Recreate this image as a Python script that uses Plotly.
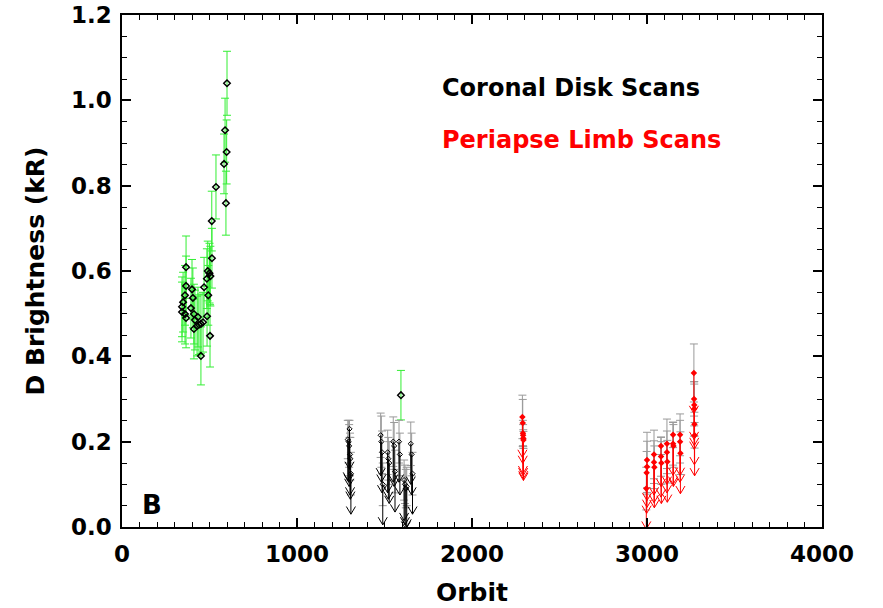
import plotly.graph_objects as go

# Coronal disk scans: detections (green error bars, black diamonds)
det_orbit = [600, 589, 598, 583, 537, 594, 513, 514, 366, 490, 500, 505, 485,
             366, 400, 469, 493, 360, 405, 349, 343, 394, 343, 360, 411, 366,
             486, 434, 417, 463, 451, 440, 429, 411, 503, 451, 1594]
det_bright = [1.04, 0.93, 0.879, 0.851, 0.797, 0.759, 0.717, 0.63, 0.609, 0.600,
              0.595, 0.588, 0.582, 0.565, 0.557, 0.562, 0.543, 0.543, 0.537,
              0.527, 0.516, 0.513, 0.504, 0.499, 0.499, 0.49, 0.494, 0.492,
              0.485, 0.48, 0.476, 0.474, 0.471, 0.464, 0.448, 0.401, 0.309]
det_err = [0.075, 0.075, 0.075, 0.07, 0.075, 0.075, 0.07, 0.07, 0.073, 0.07,
           0.07, 0.07, 0.07, 0.07, 0.07, 0.07, 0.07, 0.07, 0.07, 0.07, 0.07,
           0.07, 0.07, 0.07, 0.07, 0.07, 0.07, 0.07, 0.07, 0.07, 0.07, 0.07,
           0.07, 0.07, 0.073, 0.068, 0.058]

# Coronal disk scans: upper limits (black arrows)
cul_orbit = [1290, 1295, 1298, 1300, 1303, 1305, 1308,
             1478, 1482, 1486, 1490,
             1518, 1522, 1527,
             1550, 1555, 1560,
             1583, 1588,
             1612, 1617, 1622, 1627,
             1650, 1655, 1660]
cul_bright = [0.205, 0.2, 0.19, 0.23, 0.17, 0.16, 0.125,
              0.215, 0.2, 0.175, 0.1,
              0.175, 0.16, 0.15,
              0.2, 0.19, 0.13,
              0.2, 0.17,
              0.11, 0.1, 0.09, 0.095,
              0.195, 0.17, 0.125]
cul_err = [0.045, 0.05, 0.05, 0.02, 0.05, 0.05, 0.05,
           0.052, 0.06, 0.05, 0.05,
           0.052, 0.05, 0.05,
           0.058, 0.055, 0.05,
           0.05, 0.05,
           0.047, 0.045, 0.045, 0.045,
           0.051, 0.05, 0.05]

# Periapse limb scans: upper limits (red arrows)
lul_orbit = [2288, 2290, 2291, 2292, 2293, 2294,
             3000, 3000, 2998, 2996,
             3040, 3040, 3042,
             3080, 3080, 3082,
             3114, 3114, 3116,
             3149, 3149, 3151,
             3189, 3189, 3191,
             3268, 3269, 3270, 3270, 3271, 3272]
lul_bright = [0.258, 0.244, 0.22, 0.215, 0.208, 0.204,
              0.157, 0.141, 0.127, 0.09,
              0.17, 0.152, 0.14,
              0.19, 0.165, 0.15,
              0.195, 0.175, 0.153,
              0.216, 0.195, 0.19,
              0.216, 0.2, 0.173,
              0.361, 0.30, 0.286, 0.277, 0.241, 0.215]
lul_err = [0.051, 0.055, 0.03, 0.025, 0.02, 0.02,
           0.065, 0.06, 0.05, 0.05,
           0.057, 0.05, 0.05,
           0.02, 0.046, 0.05,
           0.058, 0.05, 0.05,
           0.03, 0.05, 0.05,
           0.049, 0.05, 0.05,
           0.068, 0.04, 0.049, 0.064, 0.028, 0.03]

ARROW_LEN = 0.095
FONT = "DejaVu Sans"


def arrow_paths(xs, vs, hx=26, hy=0.018):
    px, py = [], []
    for x, v in zip(xs, vs):
        t = v - ARROW_LEN
        px += [x, x, None, x - hx, x, x + hx, None]
        py += [v, t, None, t + hy, t, t + hy, None]
    return px, py


fig = go.Figure()

# detections
fig.add_trace(go.Scatter(
    x=det_orbit, y=det_bright, mode="markers",
    error_y=dict(type="data", array=det_err, color="#33ee33", thickness=1, width=4),
    marker=dict(symbol="diamond-open", size=5, color="black", line=dict(width=1.5)),
    showlegend=False))

# grey error bars of upper limits
for xs, vs, es in [(cul_orbit, cul_bright, cul_err), (lul_orbit, lul_bright, lul_err)]:
    fig.add_trace(go.Scatter(
        x=xs, y=vs, mode="markers", marker=dict(size=0.1, color="rgba(0,0,0,0)"),
        error_y=dict(type="data", array=es, color="#9a9a9a", thickness=1, width=4),
        showlegend=False))

# arrows
ax, ay = arrow_paths(cul_orbit, cul_bright)
fig.add_trace(go.Scatter(x=ax, y=ay, mode="lines", line=dict(color="black", width=1),
                         showlegend=False))
ax, ay = arrow_paths(lul_orbit, lul_bright)
fig.add_trace(go.Scatter(x=ax, y=ay, mode="lines", line=dict(color="red", width=1),
                         showlegend=False))

# upper limit markers
fig.add_trace(go.Scatter(x=cul_orbit, y=cul_bright, mode="markers",
                         marker=dict(symbol="diamond-open", size=4, color="black"),
                         showlegend=False))
fig.add_trace(go.Scatter(x=lul_orbit, y=lul_bright, mode="markers",
                         marker=dict(symbol="diamond", size=5, color="red"),
                         showlegend=False))

fig.add_annotation(x=1817, y=1.029, text="Coronal Disk Scans", showarrow=False,
                   xanchor="left", yanchor="middle",
                   font=dict(family=FONT, size=24, color="black", weight="bold"))
fig.add_annotation(x=1817, y=0.907, text="Periapse Limb Scans", showarrow=False,
                   xanchor="left", yanchor="middle",
                   font=dict(family=FONT, size=24, color="red", weight="bold"))
fig.add_annotation(x=171, y=0.052, text="B", showarrow=False,
                   xanchor="center", yanchor="middle",
                   font=dict(family=FONT, size=26, color="black", weight="bold"))

tickfont = dict(family=FONT, size=23, color="black", weight="bold")
titlefont = dict(family=FONT, size=25, color="black", weight="bold")

fig.update_xaxes(
    range=[0, 4000], tickvals=[0, 1000, 2000, 3000, 4000], automargin=False,
    ticks="inside", ticklen=9, tickwidth=1.5, tickcolor="black",
    minor=dict(dtick=100, ticks="inside", ticklen=5, tickcolor="black", tickwidth=1),
    showline=True, linecolor="black", linewidth=1.5, mirror="allticks",
    showgrid=False, zeroline=False, tickfont=tickfont, ticklabelstandoff=6,
    ticklabeloverflow="allow",
    title=dict(text="Orbit", font=titlefont, standoff=17))
fig.update_yaxes(
    range=[0, 1.2], tickvals=[0, 0.2, 0.4, 0.6, 0.8, 1.0, 1.2], tickformat=".1f",
    automargin=False,
    ticks="inside", ticklen=9, tickwidth=1.5, tickcolor="black",
    minor=dict(dtick=0.05, ticks="inside", ticklen=5, tickcolor="black", tickwidth=1),
    showline=True, linecolor="black", linewidth=1.5, mirror="allticks",
    showgrid=False, zeroline=False, tickfont=tickfont, ticklabelstandoff=4,
    ticklabeloverflow="allow",
    title=dict(text="D Brightness (kR)", font=titlefont, standoff=19))

fig.update_layout(width=883, height=608, margin=dict(l=122, r=61, t=15, b=81),
                  plot_bgcolor="white", paper_bgcolor="white")

# drop the default page margin so the figure sits at the window's top-left corner
fig.write_html("out.html", config={"displayModeBar": False},
               post_script="document.body.style.margin='0';")
